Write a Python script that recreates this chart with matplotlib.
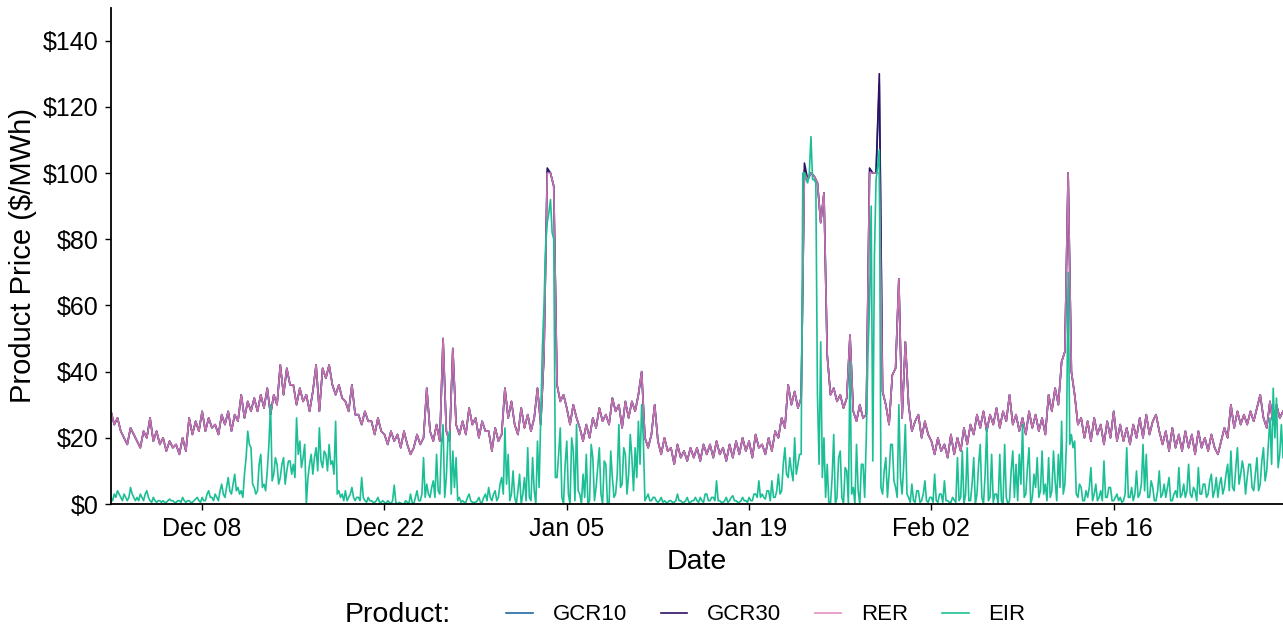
import matplotlib
matplotlib.use("Agg")
import matplotlib.pyplot as plt
import matplotlib.dates as mdates
import pandas as pd

plt.rcParams['font.family'] = ['Liberation Sans', 'DejaVu Sans']

# RER price, 6-hourly (00h, 06h, 12h, 18h), Dec 01 -> Feb 29
rer = [
    28, 24, 26, 22,  20, 18, 23, 21,  19, 17, 22, 20,  26, 19, 22, 18,
    20, 16, 19, 17,  18, 15, 20, 16,  26, 21, 25, 22,  28, 22, 26, 23,
    24, 21, 27, 24,  28, 22, 27, 25,  33, 26, 31, 28,  32, 28, 33, 29,
    35, 27, 33, 30,  42, 33, 41, 36,  36, 30, 35, 31,  33, 28, 34, 42,
    28, 41, 38, 42,  36, 33, 36, 32,  31, 28, 36, 27,  27, 24, 28, 25,
    25, 21, 26, 22,  21, 18, 22, 19,  21, 17, 22, 18,  15, 17, 21, 18,
    20, 35, 22, 19,  24, 19, 50, 22,  19, 47, 24, 21,  25, 21, 29, 24,
    26, 20, 25, 22,  22, 16, 23, 19,  21, 35, 26, 31,  24, 21, 29, 23,
    27, 22, 26, 35,  24, 45, 100, 100, 96, 36, 31, 33,  29, 24, 30, 26,
    23, 19, 24, 20,  26, 23, 29, 25,  27, 24, 32, 28,  30, 23, 31, 26,
    31, 28, 33, 40,  20, 17, 21, 30,  19, 15, 20, 16,  17, 12, 18, 14,
    16, 13, 17, 14,  17, 13, 18, 15,  18, 14, 19, 15,  17, 13, 18, 14,
    19, 15, 20, 16,  19, 14, 21, 17,  18, 15, 20, 16,  22, 20, 26, 23,
    36, 30, 34, 29,  32, 100, 98, 100, 99, 97, 85, 94,  45, 33, 35, 31,
    33, 29, 32, 51,  28, 25, 30, 26,  27, 100, 100, 100, 100, 34, 30, 24,
    39, 41, 68, 26,  49, 30, 22, 25,  27, 20, 25, 21,  19, 15, 20, 16,
    18, 14, 21, 15,  20, 16, 23, 18,  24, 21, 27, 23,  28, 22, 27, 24,
    29, 23, 28, 25,  33, 24, 27, 22,  26, 21, 28, 23,  27, 22, 26, 21,
    33, 28, 35, 30,  43, 46, 100, 40, 33, 24, 26, 20,  25, 19, 26, 21,
    24, 18, 25, 20,  28, 19, 24, 19,  23, 18, 24, 20,  26, 20, 27, 21,
    25, 27, 22, 18,  22, 16, 23, 17,  21, 16, 22, 17,  21, 15, 22, 17,
    20, 16, 21, 17,  15, 19, 23, 20,  30, 23, 28, 24,  27, 24, 28, 25,
    29, 33, 26, 23,  31, 24, 30, 26,
    28,
]

# EIR price, 3-hourly, one line per day
eir = [
    2, 1, 3, 2, 4, 3, 2, 1,
    3, 2, 1, 2, 5, 3, 2, 1,
    2, 1, 3, 2, 1, 3, 4, 2,
    1, 0.5, 2, 1, 0.5, 1, 1, 0.5,
    1, 0.5, 0.5, 1, 1.5, 1, 1, 0.5,
    0.5, 1, 1, 0.5, 2, 1, 0.5, 1,
    1, 0.5, 0.5, 1, 1.5, 2, 1, 0.5,
    2, 1, 1, 3, 4, 2, 2, 1,
    3, 2, 1, 4, 6, 3, 2, 5,
    8, 4, 3, 6, 9, 4, 5, 3,
    4, 2, 9, 14, 22, 18, 17, 6,
    5, 3, 4, 12, 15, 5, 6, 4,
    10, 18, 30, 7, 9, 14, 12, 6,
    8, 12, 14, 6, 10, 13, 13, 9,
    12, 8, 26, 15, 19, 11, 14, 18,
    0, 8, 12, 15, 9, 14, 17, 10,
    23, 13, 11, 16, 15, 10, 18, 12,
    13, 9, 25, 3, 4, 2, 3, 1,
    4, 1, 2, 3, 5, 2, 1, 2,
    2, 1, 8, 2, 1, 0.5, 2, 1,
    1, 0.5, 0.5, 1, 2, 0.5, 0.5, 1,
    0.5, 0, 1, 0.5, 0, 1, 5.7, 0.5,
    0, 0.5, 0.3, 0, 0, 1, 0.5, 0,
    3, 0.5, 0, 2, 4, 1, 1, 3,
    14, 2, 6, 3, 2, 5, 7, 2,
    15, 4, 3, 18, 24, 2, 8, 20,
    22, 3, 16, 5, 14, 1, 2, 0.5,
    1, 0.5, 0.5, 2, 3, 1, 0.5, 0.5,
    0.5, 1, 2, 0.5, 0.5, 2, 3, 1,
    5, 2, 1, 3, 4, 1, 2, 6,
    8, 3, 23, 6, 15, 1, 3, 10,
    2, 0, 4, 9, 0, 3, 8, 1,
    17, 2, 1, 14, 4, 0, 19, 5,
    26, 47, 60, 78, 85, 88, 92, 82,
    80, 8, 8, 15, 23, 2, 0, 12,
    19, 3, 0, 20, 16, 1, 24, 4,
    3, 0, 9, 2, 15, 0, 1, 18,
    14, 1, 5, 11, 17, 3, 0, 13,
    12, 0, 0, 16, 8, 2, 3, 9,
    24, 5, 6, 17, 15, 3, 9, 21,
    14, 4, 17, 8, 25, 12, 30, 20,
    1, 2, 3, 1, 1, 2, 2, 1,
    0.5, 1, 2, 0.5, 1, 0.5, 0.5, 1,
    1, 0.5, 0.5, 1, 3, 1, 1, 0.5,
    0.5, 1, 2, 0.5, 0.5, 1, 1, 2,
    1, 0.5, 2, 1, 0.5, 3, 3, 1,
    1, 2, 2, 1, 7, 1, 1, 0.5,
    0.5, 1, 2, 0.5, 1, 2, 2.5, 1,
    1, 0.5, 0.5, 1, 2, 1, 1, 0.5,
    2, 1, 1, 3, 3, 2, 7, 2,
    3, 2, 1.5, 4, 4, 1, 7, 2,
    2, 4, 9, 3, 4, 12, 17, 9,
    8, 14, 10, 7, 20, 9, 12, 15,
    15, 100, 100, 98, 97, 100, 111, 98,
    98, 97, 33, 12, 49, 8, 20, 2,
    12, 0, 0, 8, 21, 0, 2, 14,
    16, 2, 0, 11, 10, 0, 43, 3,
    5, 0, 18, 4, 0, 12, 12, 2,
    20, 45, 60, 90, 13, 75, 98, 102,
    107, 5, 3, 10, 14, 2, 9, 18,
    18, 7, 5, 2, 30, 8, 3, 12,
    24, 3, 2, 0.5, 6, 1, 0.5, 4,
    4, 0.5, 1, 3, 7, 1, 0.5, 2,
    2, 0.5, 9, 1, 0.5, 3, 3, 0.5,
    7, 1, 1, 0.5, 0.5, 2, 1.2, 0.5,
    14, 1, 2, 16, 0, 3, 17, 1,
    1, 6, 14, 0, 3, 12, 18, 2,
    0, 9, 23, 1, 2, 15, 0.5, 3,
    3, 0, 15, 1, 0, 18, 2, 0,
    1, 10, 16, 2, 12, 1, 15, 6,
    24, 2, 3, 11, 17, 0, 2, 9,
    5, 14, 2, 4, 16, 3, 6, 1,
    14, 2, 4, 16, 7, 1, 15, 5,
    25, 3, 6, 19, 70, 18, 21, 17,
    19, 3, 2, 6, 5, 1, 1, 4,
    2, 5, 11, 1, 3, 6, 1, 2,
    4, 1, 13, 2, 2, 5, 5, 1,
    1, 2, 3, 1, 2, 0.5, 1, 3,
    17, 2, 2, 5, 1, 3, 10, 2,
    3, 6, 18, 4, 15, 2, 2, 7,
    5, 1, 1, 4, 10, 2, 3, 6,
    2, 5, 8, 1, 1, 3, 4, 2,
    11, 2, 3, 6, 2, 4, 12, 3,
    2, 5, 4, 1, 11, 3, 3, 6,
    6, 2, 3, 7, 9, 2, 4, 8,
    2, 6, 8, 3, 5, 9, 12, 4,
    16, 5, 4, 11, 17, 6, 9, 13,
    10, 3, 8, 12, 12, 5, 4, 9,
    14, 4, 6, 13, 17, 7, 10, 18,
    26, 12, 35, 20, 32, 11, 15, 24,
    14,
]

# GCR products track RER except around the price spikes
gcr10_peaks = {"2020-01-03 12:00": 100.5, "2020-01-23 06:00": 101, "2020-01-29 00:00": 127}
gcr30_peaks = {"2020-01-03 12:00": 101.5, "2020-01-23 06:00": 103,
               "2020-01-28 06:00": 101.5, "2020-01-29 00:00": 130}

products = ["GCR10", "GCR30", "RER", "EIR"]
colors = ["#1f6aa8", "#2d1163", "#de7fb9", "#1cbf95"]
alphas = [1.0, 1.0, 0.88, 1.0]

t6 = pd.date_range("2019-12-01", periods=len(rer), freq="6h")
t3 = pd.date_range("2019-12-01", periods=len(eir), freq="3h")
gcr = pd.DataFrame({"RER": rer}, index=t6)
gcr["GCR10"] = gcr["RER"]
gcr["GCR30"] = gcr["RER"]
for t, v in gcr10_peaks.items():
    gcr.loc[pd.Timestamp(t), "GCR10"] = v
for t, v in gcr30_peaks.items():
    gcr.loc[pd.Timestamp(t), "GCR30"] = v
series = {"GCR10": gcr["GCR10"], "GCR30": gcr["GCR30"], "RER": gcr["RER"],
          "EIR": pd.Series(eir, index=t3)}

W, H = 1283, 631
fig = plt.figure(figsize=(W / 100, H / 100), dpi=100)
ax = fig.add_axes([111 / W, 127 / H, 1 - 111 / W, (504 - 7.5) / H])

handles = []
for name, col, a in zip(products, colors, alphas):
    s = series[name]
    ln, = ax.plot(s.index, s.values, color=col, lw=1.2, alpha=a, label=name)
    handles.append(ln)

ax.set_xlim(t6[0], t6[-1])
ax.set_ylim(0, 150)
yt = list(range(0, 141, 20))
ax.set_yticks(yt)
ax.set_yticklabels([r"\$%d" % v for v in yt])
xt = pd.to_datetime(["2019-12-08", "2019-12-22", "2020-01-05",
                     "2020-01-19", "2020-02-02", "2020-02-16"])
ax.set_xticks(xt)
ax.xaxis.set_major_formatter(mdates.DateFormatter("%b %d"))

for s in ["top", "right"]:
    ax.spines[s].set_visible(False)
for s in ["left", "bottom"]:
    ax.spines[s].set_linewidth(1.3)
ax.tick_params(labelsize=18, length=4, width=1, pad=5, colors="black")

ax.set_xlabel("Date", fontsize=20.5, labelpad=6)
ax.set_ylabel(r"Product Price (\$/MWh)", fontsize=21, labelpad=4)

fig.text(345 / W, 16 / H, "Product:", fontsize=20.5, va="center", ha="left")
fig.legend(handles, products, loc="center", bbox_to_anchor=(766 / W, 16 / H),
           ncol=4, frameon=False, fontsize=16, handlelength=1.2,
           handletextpad=0.9, columnspacing=1.5, borderpad=0)

fig.savefig("out.png", dpi=100)
